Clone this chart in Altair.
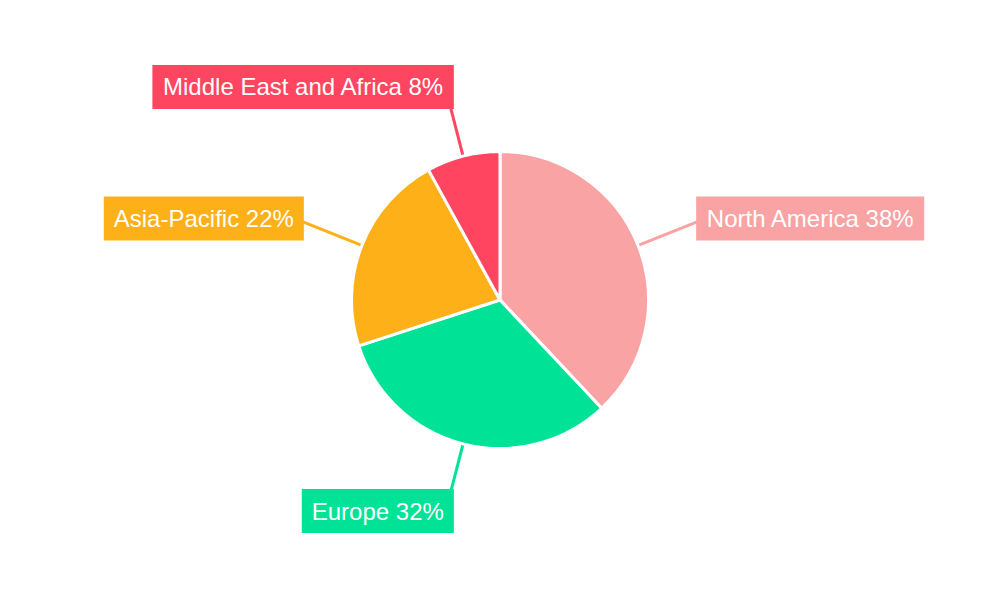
import altair as alt
import pandas as pd

regions = ["North America", "Europe", "Asia-Pacific", "Middle East and Africa"]
shares = [38, 32, 22, 8]
colors = ["#F9A3A4", "#00E396", "#FEB019", "#FF4560"]

W, H = 984, 584
CX, CY = W / 2, H / 2
R_PIE = 148.5
R = 150
R_END = 212
FONT_SIZE = 24
PAD = 10
BOX_H = 44

# Arial / Liberation Sans advance widths (per 1000 em)
_ADV = {
    " ": 278, "%": 889, "-": 333, "0": 556, "1": 556, "2": 556, "3": 556, "4": 556,
    "5": 556, "6": 556, "7": 556, "8": 556, "9": 556,
    "A": 667, "E": 667, "M": 833, "N": 722, "P": 667,
    "a": 556, "c": 500, "d": 556, "e": 556, "f": 278, "h": 556, "i": 222, "l": 222,
    "m": 833, "n": 556, "o": 556, "p": 556, "r": 333, "s": 500, "t": 278, "u": 556,
}


def text_width(s, size=FONT_SIZE):
    return sum(_ADV.get(ch, 556) for ch in s) * size / 1000.0


labels = [f"{r} {s}%" for r, s in zip(regions, shares)]
df = pd.DataFrame({
    "region": regions,
    "share": shares,
    "idx": list(range(len(regions))),
    "label": labels,
    "tw": [text_width(l) + 2 * PAD for l in labels],
})

color = alt.Color("region:N", scale=alt.Scale(domain=regions, range=colors), legend=None)

base = alt.Chart(df).transform_joinaggregate(
    total="sum(share)"
).transform_window(
    cum="sum(share)", sort=[alt.SortField("idx")], frame=[None, 0]
).transform_calculate(
    mid=f"2*PI*(datum.cum - datum.share/2)/datum.total"
).transform_calculate(
    sn="sin(datum.mid)", cs="cos(datum.mid)"
).transform_calculate(
    x1=f"{CX} + {R}*datum.sn",
    y1=f"{CY} - {R}*datum.cs",
    ex=f"{CX} + {R_END}*datum.sn",
    ey=f"{CY} - {R_END}*datum.cs",
    sg="datum.sn > 0 ? 1 : -1",
).transform_calculate(
    edge="datum.ex - datum.sg*7*datum.cs*datum.cs",
    cyb="datum.ey - 7*datum.cs - 1",
).transform_calculate(
    bx1="datum.sg > 0 ? datum.edge : datum.edge - datum.tw",
    bx2="datum.sg > 0 ? datum.edge + datum.tw : datum.edge",
    by1=f"datum.cyb - {BOX_H/2}",
    by2=f"datum.cyb + {BOX_H/2}",
    tx="datum.sg > 0 ? datum.edge + datum.tw/2 : datum.edge - datum.tw/2",
    ty=f"datum.cyb + {0.716*FONT_SIZE/2}",
)

arcs = alt.Chart(df).mark_arc(outerRadius=R_PIE, stroke="white", strokeWidth=3).encode(
    theta=alt.Theta("share:Q", stack=True),
    order=alt.Order("idx:Q"),
    color=color,
)

rules = base.mark_rule(strokeWidth=3).encode(
    x=alt.X("x1:Q", scale=None, axis=None),
    y=alt.Y("y1:Q", scale=None, axis=None),
    x2="ex:Q",
    y2="ey:Q",
    color=color,
)

boxes = base.mark_rect().encode(
    x=alt.X("bx1:Q", scale=None, axis=None),
    x2="bx2:Q",
    y=alt.Y("by1:Q", scale=None, axis=None),
    y2="by2:Q",
    color=color,
)

texts = base.mark_text(
    font="Liberation Sans", fontSize=FONT_SIZE, color="white", align="center", baseline="alphabetic"
).encode(
    x=alt.X("tx:Q", scale=None, axis=None),
    y=alt.Y("ty:Q", scale=None, axis=None),
    text="label:N",
)

chart = alt.layer(arcs, rules, boxes, texts).properties(
    width=W, height=H, padding=0, autosize="none", background="white"
).configure_view(stroke=None)

chart.save("out.html", embed_options={"renderer": "svg", "actions": False})
